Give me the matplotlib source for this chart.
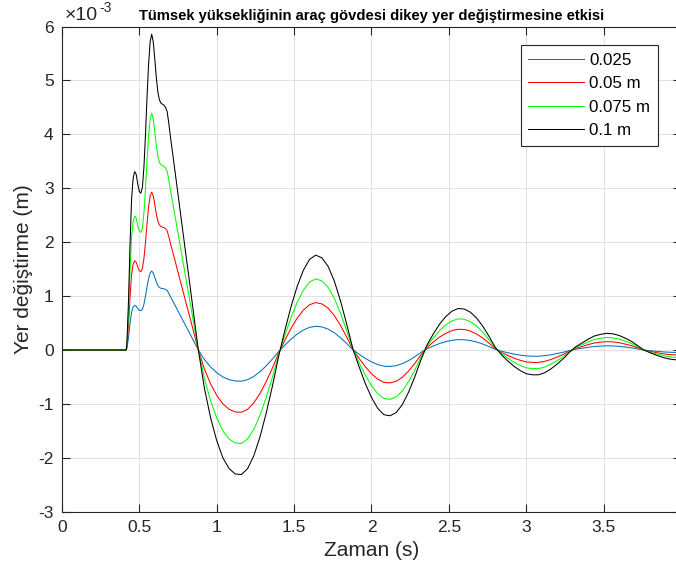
import numpy as np
import matplotlib
matplotlib.use("Agg")
import matplotlib.pyplot as plt
from matplotlib.ticker import FuncFormatter

plt.rcParams['font.family'] = ['Liberation Sans', 'DejaVu Sans']
plt.rcParams['axes.unicode_minus'] = False

# zaman (s)
t = [0.00, 0.41, 0.415, 0.42, 0.43, 0.44, 0.45, 0.46, 0.47, 0.48, 0.49,
     0.50, 0.51, 0.52, 0.53, 0.54, 0.55, 0.56, 0.57, 0.58, 0.59, 0.60,
     0.61, 0.62, 0.63, 0.64, 0.65, 0.66, 0.67, 0.68, 0.69, 0.70, 0.72,
     0.74, 0.76, 0.78, 0.80, 0.82, 0.84, 0.86, 0.88,
     0.92, 0.96, 1.00, 1.04, 1.08, 1.12, 1.16, 1.20, 1.24, 1.28, 1.32,
     1.36, 1.40, 1.44, 1.48, 1.52, 1.56, 1.60, 1.64, 1.68, 1.72, 1.76,
     1.80, 1.84, 1.88, 1.92, 1.96, 2.00, 2.04, 2.08, 2.12, 2.16, 2.20,
     2.24, 2.28, 2.32, 2.36, 2.40, 2.44, 2.48, 2.52, 2.56, 2.60, 2.64,
     2.68, 2.72, 2.76, 2.80, 2.84, 2.88, 2.92, 2.96, 3.00, 3.04, 3.08,
     3.12, 3.16, 3.20, 3.24, 3.28, 3.32, 3.36, 3.40, 3.44, 3.48, 3.52,
     3.56, 3.60, 3.64, 3.68, 3.72, 3.76, 3.80, 3.84, 3.88, 3.92, 3.96, 4.00]

# yer degistirme (x1e-3 m)
y_0025 = [0, 0, 0, 0.03, 0.225, 0.488, 0.70, 0.795, 0.828, 0.815, 0.77,
          0.735, 0.728, 0.755, 0.85, 1.00, 1.175, 1.325, 1.43, 1.465, 1.43, 1.35,
          1.263, 1.195, 1.16, 1.145, 1.14, 1.135, 1.125, 1.105, 1.055, 0.995, 0.888,
          0.778, 0.668, 0.558, 0.448, 0.34, 0.23, 0.118, 0.008,
          -0.175, -0.313, -0.42, -0.50, -0.55, -0.575, -0.578, -0.55, -0.49, -0.403, -0.293,
          -0.168, -0.03, 0.09, 0.20, 0.295, 0.37, 0.42, 0.44, 0.428, 0.388, 0.32,
          0.228, 0.12, 0.005, -0.078, -0.155, -0.22, -0.27, -0.30, -0.305, -0.29, -0.253,
          -0.195, -0.125, -0.045, 0.025, 0.075, 0.12, 0.155, 0.18, 0.193, 0.19, 0.175,
          0.148, 0.11, 0.063, 0.013, -0.023, -0.05, -0.075, -0.095, -0.11, -0.115, -0.115,
          -0.105, -0.088, -0.065, -0.04, -0.01, 0.015, 0.033, 0.05, 0.065, 0.073, 0.078,
          0.075, 0.068, 0.055, 0.04, 0.02, 0.0, -0.013, -0.024, -0.034, -0.041, -0.045, -0.048]

y_005 = [0, 0, 0, 0.06, 0.45, 0.975, 1.40, 1.59, 1.655, 1.63, 1.54,
         1.47, 1.455, 1.51, 1.70, 2.00, 2.35, 2.65, 2.86, 2.93, 2.86, 2.70,
         2.525, 2.39, 2.32, 2.29, 2.28, 2.27, 2.25, 2.21, 2.11, 1.99, 1.775,
         1.555, 1.335, 1.115, 0.895, 0.68, 0.46, 0.235, 0.015,
         -0.35, -0.625, -0.84, -1.00, -1.10, -1.15, -1.155, -1.10, -0.98, -0.805, -0.585,
         -0.335, -0.06, 0.18, 0.40, 0.59, 0.74, 0.84, 0.88, 0.855, 0.775, 0.64,
         0.455, 0.24, 0.01, -0.155, -0.31, -0.44, -0.54, -0.60, -0.61, -0.58, -0.505,
         -0.39, -0.25, -0.09, 0.05, 0.15, 0.24, 0.31, 0.36, 0.385, 0.38, 0.35,
         0.295, 0.22, 0.125, 0.025, -0.045, -0.10, -0.15, -0.19, -0.22, -0.23, -0.23,
         -0.21, -0.175, -0.13, -0.08, -0.02, 0.03, 0.065, 0.10, 0.13, 0.145, 0.155,
         0.15, 0.135, 0.11, 0.08, 0.04, 0.0, -0.025, -0.048, -0.068, -0.083, -0.09, -0.095]

y_0075 = [0, 0, 0, 0.09, 0.675, 1.463, 2.10, 2.385, 2.483, 2.445, 2.31,
          2.205, 2.183, 2.265, 2.55, 3.00, 3.525, 3.975, 4.29, 4.395, 4.29, 4.05,
          3.788, 3.585, 3.48, 3.435, 3.42, 3.405, 3.375, 3.315, 3.165, 2.985, 2.663,
          2.333, 2.003, 1.673, 1.343, 1.02, 0.69, 0.353, 0.023,
          -0.525, -0.938, -1.26, -1.50, -1.65, -1.725, -1.733, -1.65, -1.47, -1.208, -0.878,
          -0.503, -0.09, 0.27, 0.60, 0.885, 1.11, 1.26, 1.32, 1.283, 1.163, 0.96,
          0.683, 0.36, 0.015, -0.233, -0.465, -0.66, -0.81, -0.90, -0.915, -0.87, -0.758,
          -0.585, -0.375, -0.135, 0.075, 0.225, 0.36, 0.465, 0.54, 0.578, 0.57, 0.525,
          0.443, 0.33, 0.188, 0.038, -0.068, -0.15, -0.225, -0.285, -0.33, -0.345, -0.345,
          -0.315, -0.263, -0.195, -0.12, -0.03, 0.045, 0.098, 0.15, 0.195, 0.218, 0.233,
          0.225, 0.203, 0.165, 0.12, 0.06, 0.0, -0.038, -0.071, -0.101, -0.124, -0.135, -0.143]

y_01 = [0, 0, 0, 0.12, 0.90, 1.95, 2.80, 3.18, 3.31, 3.26, 3.08,
        2.94, 2.91, 3.02, 3.40, 4.00, 4.70, 5.30, 5.72, 5.86, 5.72, 5.40,
        5.05, 4.78, 4.64, 4.58, 4.56, 4.54, 4.50, 4.42, 4.22, 3.98, 3.55,
        3.11, 2.67, 2.23, 1.79, 1.36, 0.92, 0.47, 0.03,
        -0.70, -1.25, -1.68, -2.00, -2.20, -2.30, -2.31, -2.20, -1.96, -1.61, -1.17,
        -0.67, -0.12, 0.36, 0.80, 1.18, 1.48, 1.68, 1.76, 1.71, 1.55, 1.28,
        0.91, 0.48, 0.02, -0.31, -0.62, -0.88, -1.08, -1.20, -1.22, -1.16, -1.01,
        -0.78, -0.50, -0.18, 0.10, 0.30, 0.48, 0.62, 0.72, 0.77, 0.76, 0.70,
        0.59, 0.44, 0.25, 0.05, -0.09, -0.20, -0.30, -0.38, -0.44, -0.46, -0.46,
        -0.42, -0.35, -0.26, -0.16, -0.04, 0.06, 0.13, 0.20, 0.26, 0.29, 0.31,
        0.30, 0.27, 0.22, 0.16, 0.08, 0.0, -0.05, -0.095, -0.135, -0.165, -0.18, -0.19]

labels = ['0.025', '0.05 m', '0.075 m', '0.1 m']
colors = ['#0072BD', '#FF0000', '#00FF00', '#000000']

fig = plt.figure(figsize=(6.76, 5.74), dpi=100)
ax = fig.add_axes([0.0916, 0.1085, 0.9158, 0.8452])

for ys, lab, c in zip([y_0025, y_005, y_0075, y_01], labels, colors):
    ax.plot(t, np.array(ys) * 1e-3, color=c, lw=0.75, label=lab)

ax.set_xlim(0, 4)
ax.set_ylim(-3e-3, 6e-3)
ax.set_xticks(np.arange(0, 4.01, 0.5))
ax.set_yticks(np.arange(-3, 6.01, 1) * 1e-3)
ax.set_xticklabels(['0', '0.5', '1', '1.5', '2', '2.5', '3', '3.5', '4'])
ax.yaxis.set_major_formatter(FuncFormatter(lambda v, p: '%d' % round(v * 1e3)))

# MATLAB tarzi x10^-3 carpani
ax.annotate('\u00d710', xy=(0, 1), xycoords='axes fraction', xytext=(2, 2),
            textcoords='offset points', fontsize=14, color='#262626',
            ha='left', va='bottom')
ax.annotate('-3', xy=(0, 1), xycoords='axes fraction', xytext=(27, 8.5),
            textcoords='offset points', fontsize=10, color='#262626',
            ha='left', va='bottom')

ax.grid(True, color='#dcdcdc', lw=0.6)
ax.set_axisbelow(True)
ax.tick_params(direction='in', top=True, right=True, length=6, width=0.8,
               labelsize=12.5, colors='#262626', pad=6)
for s in ax.spines.values():
    s.set_color('#262626')
    s.set_linewidth(0.8)

ax.set_xlabel('Zaman (s)', fontsize=15, color='#262626', labelpad=4)
ax.set_ylabel('Yer değiştirme (m)', fontsize=15, color='#262626', labelpad=4)
ax.set_title('Tümsek yüksekliğinin araç gövdesi dikey yer değiştirmesine etkisi',
             fontsize=10.6, fontweight='bold', pad=5)

leg = ax.legend(loc='upper right', bbox_to_anchor=(0.9625, 0.962), fontsize=12.2,
                fancybox=False, framealpha=1, edgecolor='#262626',
                handlelength=3.3, handletextpad=0.3, labelspacing=0.5,
                borderpad=0.45, borderaxespad=0)
leg.get_frame().set_linewidth(0.8)

fig.savefig('out.png', dpi=100)
